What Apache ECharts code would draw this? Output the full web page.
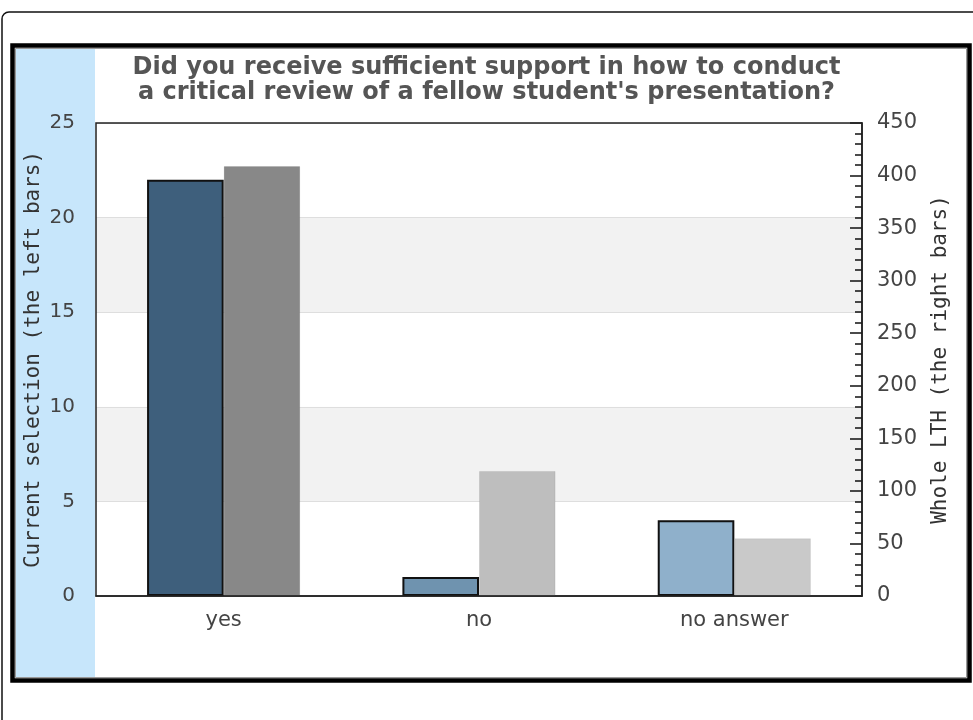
<!DOCTYPE html>
<html><head><meta charset="utf-8">
<script src="https://cdn.jsdelivr.net/npm/echarts@6/dist/echarts.min.js"></script>
<style>html,body{margin:0;padding:0;background:#fff}#c{width:973px;height:720px}</style>
</head><body><div id="c"></div>
<script>
const categories = ['yes', 'no', 'no answer'];
const currentValues = [22, 1, 4];
const lthValues = [409, 119, 55];
const currentColors = ['#3E5F7C', '#6F93AF', '#8FB0CB'];
const lthColors = ['#888888', '#BEBEBE', '#C9C9C9'];
const titleText = 'Did you receive sufficient support in how to conduct\na critical review of a fellow student\'s presentation?';
const leftAxisName = 'Current selection (the left bars)';
const rightAxisName = 'Whole LTH (the right bars)';

const G = { left: 96, right: 111, top: 123, bottom: 124 };
const W = 973, H = 720;

const chart = echarts.init(document.getElementById('c'), null, { renderer: 'canvas' });
chart.setOption({
  animation: false,
  backgroundColor: '#fff',
  title: {
    text: titleText,
    left: 'center',
    top: 55,
    padding: [0, 0, 0, 12],
    textStyle: { fontFamily: 'DejaVu Sans', fontWeight: 'bold', fontSize: 24, lineHeight: 25, color: '#555' }
  },
  graphic: [
    { type: 'rect', z: -10, shape: { x: 2, y: 12, width: 1000, height: 760, r: 7 }, style: { fill: '#fff', stroke: '#111', lineWidth: 1.5 } },
    { type: 'rect', z: -9, shape: { x: 15, y: 48, width: 80, height: 630 }, style: { fill: '#C7E6FB' } },
    { type: 'rect', z: 50, shape: { x: 12.5, y: 45.5, width: 957, height: 635 }, style: { fill: 'none', stroke: '#000', lineWidth: 4.5 } },
    { type: 'rect', z: 50, shape: { x: 15.5, y: 48.5, width: 951, height: 629 }, style: { fill: 'none', stroke: '#999', lineWidth: 1 } },
    { type: 'rect', z: 50, shape: { x: G.left, y: G.top, width: W - G.left - G.right, height: H - G.top - G.bottom }, style: { fill: 'none', stroke: '#222', lineWidth: 1.5 } }
  ],
  grid: { left: G.left, right: G.right, top: G.top, bottom: G.bottom, containLabel: false },
  xAxis: {
    type: 'category',
    data: categories,
    axisTick: { show: false },
    axisLine: { lineStyle: { color: '#222', width: 1.5 } },
    axisLabel: { fontFamily: 'DejaVu Sans', fontSize: 21, color: '#444', margin: 14 }
  },
  yAxis: [
    {
      type: 'value', min: 0, max: 25, interval: 5, position: 'left',
      axisLine: { show: false }, axisTick: { show: false },
      axisLabel: { fontFamily: 'DejaVu Sans', fontSize: 20, color: '#444', margin: 21 },
      splitLine: { show: true, lineStyle: { color: '#dedede', width: 1 } },
      splitArea: { show: true, areaStyle: { color: ['#ffffff', '#f2f2f2'] } },
      name: leftAxisName, nameLocation: 'middle', nameRotate: 90, nameGap: 52, nameMoveOverlap: false,
      nameTextStyle: { fontFamily: 'DejaVu Sans Mono', fontSize: 21, color: '#333' }
    },
    {
      type: 'value', min: 0, max: 450, interval: 50, position: 'right',
      axisLine: { show: true, lineStyle: { color: '#111', width: 1.5 } },
      axisTick: { show: true, inside: true, length: 12, lineStyle: { color: '#111', width: 1.5 } },
      minorTick: { show: true, splitNumber: 5, length: 7, lineStyle: { color: '#111', width: 1.5 } },
      axisLabel: { fontFamily: 'DejaVu Sans', fontSize: 21, color: '#444', margin: 15 },
      splitLine: { show: false },
      name: rightAxisName, nameLocation: 'middle', nameRotate: 90, nameGap: 68,
      nameTextStyle: { fontFamily: 'DejaVu Sans Mono', fontSize: 21, color: '#333' }
    }
  ],
  series: [
    {
      type: 'bar', name: 'Current selection', yAxisIndex: 0, barWidth: '30%', barGap: '0%',
      itemStyle: { borderColor: '#111', borderWidth: 2 },
      data: currentValues.map((v, i) => ({ value: v, itemStyle: { color: currentColors[i] } }))
    },
    {
      type: 'bar', name: 'Whole LTH', yAxisIndex: 1, barWidth: '30%', barGap: '0%',
      itemStyle: { borderColor: 'rgba(0,0,0,0.07)', borderWidth: 1 },
      data: lthValues.map((v, i) => ({ value: v, itemStyle: { color: lthColors[i] } }))
    }
  ]
});
</script></body></html>
